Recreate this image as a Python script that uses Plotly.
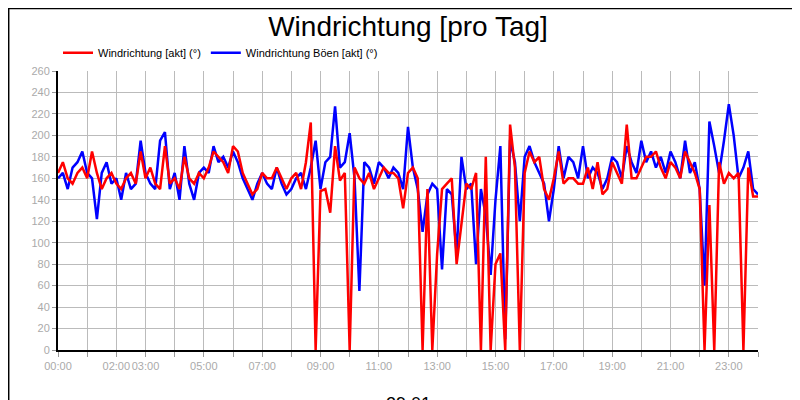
import numpy as np
import plotly.graph_objects as go

# Windrichtung, 10-Minuten-Werte
stunden = [i / 6 for i in range(145)]

wind_akt = [
    165, 175, 160, 155, 165, 170,
    160, 185, 165, 150, 160, 165,
    155, 150, 160, 165, 155, 185,
    160, 170, 155, 150, 190, 155,
    160, 150, 180, 160, 155, 165,
    160, 170, 185, 180, 175, 165,
    190, 185, 165, 155, 145, 150,
    165, 160, 160, 170, 160, 150,
    160, 165, 150, 175, 212, 0,
    148, 150, 128, 190, 158, 165,
    0, 170, 160, 155, 165, 150,
    160, 170, 165, 165, 160, 132,
    165, 170, 160, 0, 150, 0,
    90, 150, 155, 160, 80, 120,
    155, 150, 165, 0, 180, 0,
    80, 90, 0, 210, 170, 0,
    165, 185, 175, 180, 150, 140,
    160, 185, 155, 160, 160, 155,
    155, 170, 150, 175, 145, 150,
    175, 165, 155, 210, 160, 160,
    170, 180, 180, 185, 170, 160,
    175, 170, 160, 185, 175, 165,
    150, 0, 135, 0, 175, 155,
    165, 160, 165, 0, 170, 143,
    143,
]

wind_boeen = [
    160, 165, 150, 170, 175, 185,
    165, 160, 122, 165, 175, 155,
    160, 140, 165, 150, 155, 195,
    165, 155, 150, 195, 203, 150,
    165, 140, 190, 155, 140, 165,
    170, 165, 190, 175, 180, 170,
    185, 175, 160, 150, 140, 155,
    165, 155, 150, 170, 155, 145,
    150, 160, 165, 150, 170, 195,
    150, 175, 180, 227, 170, 175,
    202, 160, 55, 175, 170, 155,
    175, 170, 160, 170, 165, 150,
    208, 170, 150, 110, 145, 155,
    150, 75, 150, 145, 90, 180,
    150, 155, 80, 150, 125, 70,
    140, 190, 10, 196, 175, 120,
    180, 190, 175, 165, 155, 120,
    150, 190, 160, 180, 175, 160,
    190, 160, 170, 165, 150, 160,
    180, 175, 160, 190, 175, 165,
    195, 175, 185, 170, 180, 165,
    185, 175, 160, 195, 165, 175,
    150, 60, 213, 190, 165, 195,
    229, 200, 160, 170, 185, 150,
    145,
]

tick_werte = list(range(25))
tick_texte = ["00:00", "", "02:00", "03:00", "", "05:00", "", "07:00", "", "09:00", "",
              "11:00", "", "13:00", "", "15:00", "", "17:00", "", "19:00", "", "21:00",
              "", "23:00", ""]

fig = go.Figure()
fig.add_trace(go.Scatter(x=stunden, y=wind_boeen, mode="lines", name="Windrichtung Böen [akt] (°)",
                         line=dict(color="#0000ff", width=2.5)))
fig.add_trace(go.Scatter(x=stunden, y=wind_akt, mode="lines", name="Windrichtung [akt] (°)",
                         line=dict(color="#ff0000", width=2.5)))

fig.update_layout(
    width=800, height=400, autosize=False,
    paper_bgcolor="white", plot_bgcolor="white",
    margin=dict(l=50, r=50, t=63, b=58, autoexpand=False),
    title=dict(text="Windrichtung [pro Tag]", x=0.5, y=0.955, xanchor="center", yanchor="middle",
               font=dict(family="Liberation Sans, Arial", size=28, color="black")),
    legend=dict(orientation="h", x=0.0, y=1.065, xanchor="left", yanchor="middle",
                traceorder="reversed", font=dict(family="Liberation Sans, Arial", size=11, color="black"),
                bgcolor="rgba(0,0,0,0)"),
    showlegend=True,
    font=dict(family="Liberation Sans, Arial"),
)
fig.update_xaxes(range=[0, 24], tickvals=tick_werte, ticktext=tick_texte, tickangle=0,
                 automargin=False,
                 showgrid=True, gridcolor="#bbbbbb", ticks="outside", tickcolor="#999999",
                 tickfont=dict(size=11, color="#aaaaaa"), showline=True, linecolor="black",
                 linewidth=2, zeroline=False)
fig.update_yaxes(range=[0, 260], dtick=20, showgrid=True, gridcolor="#bbbbbb", automargin=False,
                 ticks="outside", tickcolor="#999999", ticklen=4,
                 tickfont=dict(size=11, color="#aaaaaa"), showline=True, linecolor="black",
                 linewidth=2, zeroline=False)
fig.add_annotation(text="29.01", x=0.5, y=-0.15, xref="paper", yref="paper",
                   showarrow=False, font=dict(size=18, color="black"), yanchor="top")
fig.add_shape(type="rect", xref="paper", yref="paper", x0=-50 / 700 + 0.001, x1=1 + 50 / 700 - 0.001,
              y0=-58 / 279 + 0.002, y1=1 + 63 / 279 - 0.002, line=dict(color="black", width=1.5))

fig.write_html("out.html")
